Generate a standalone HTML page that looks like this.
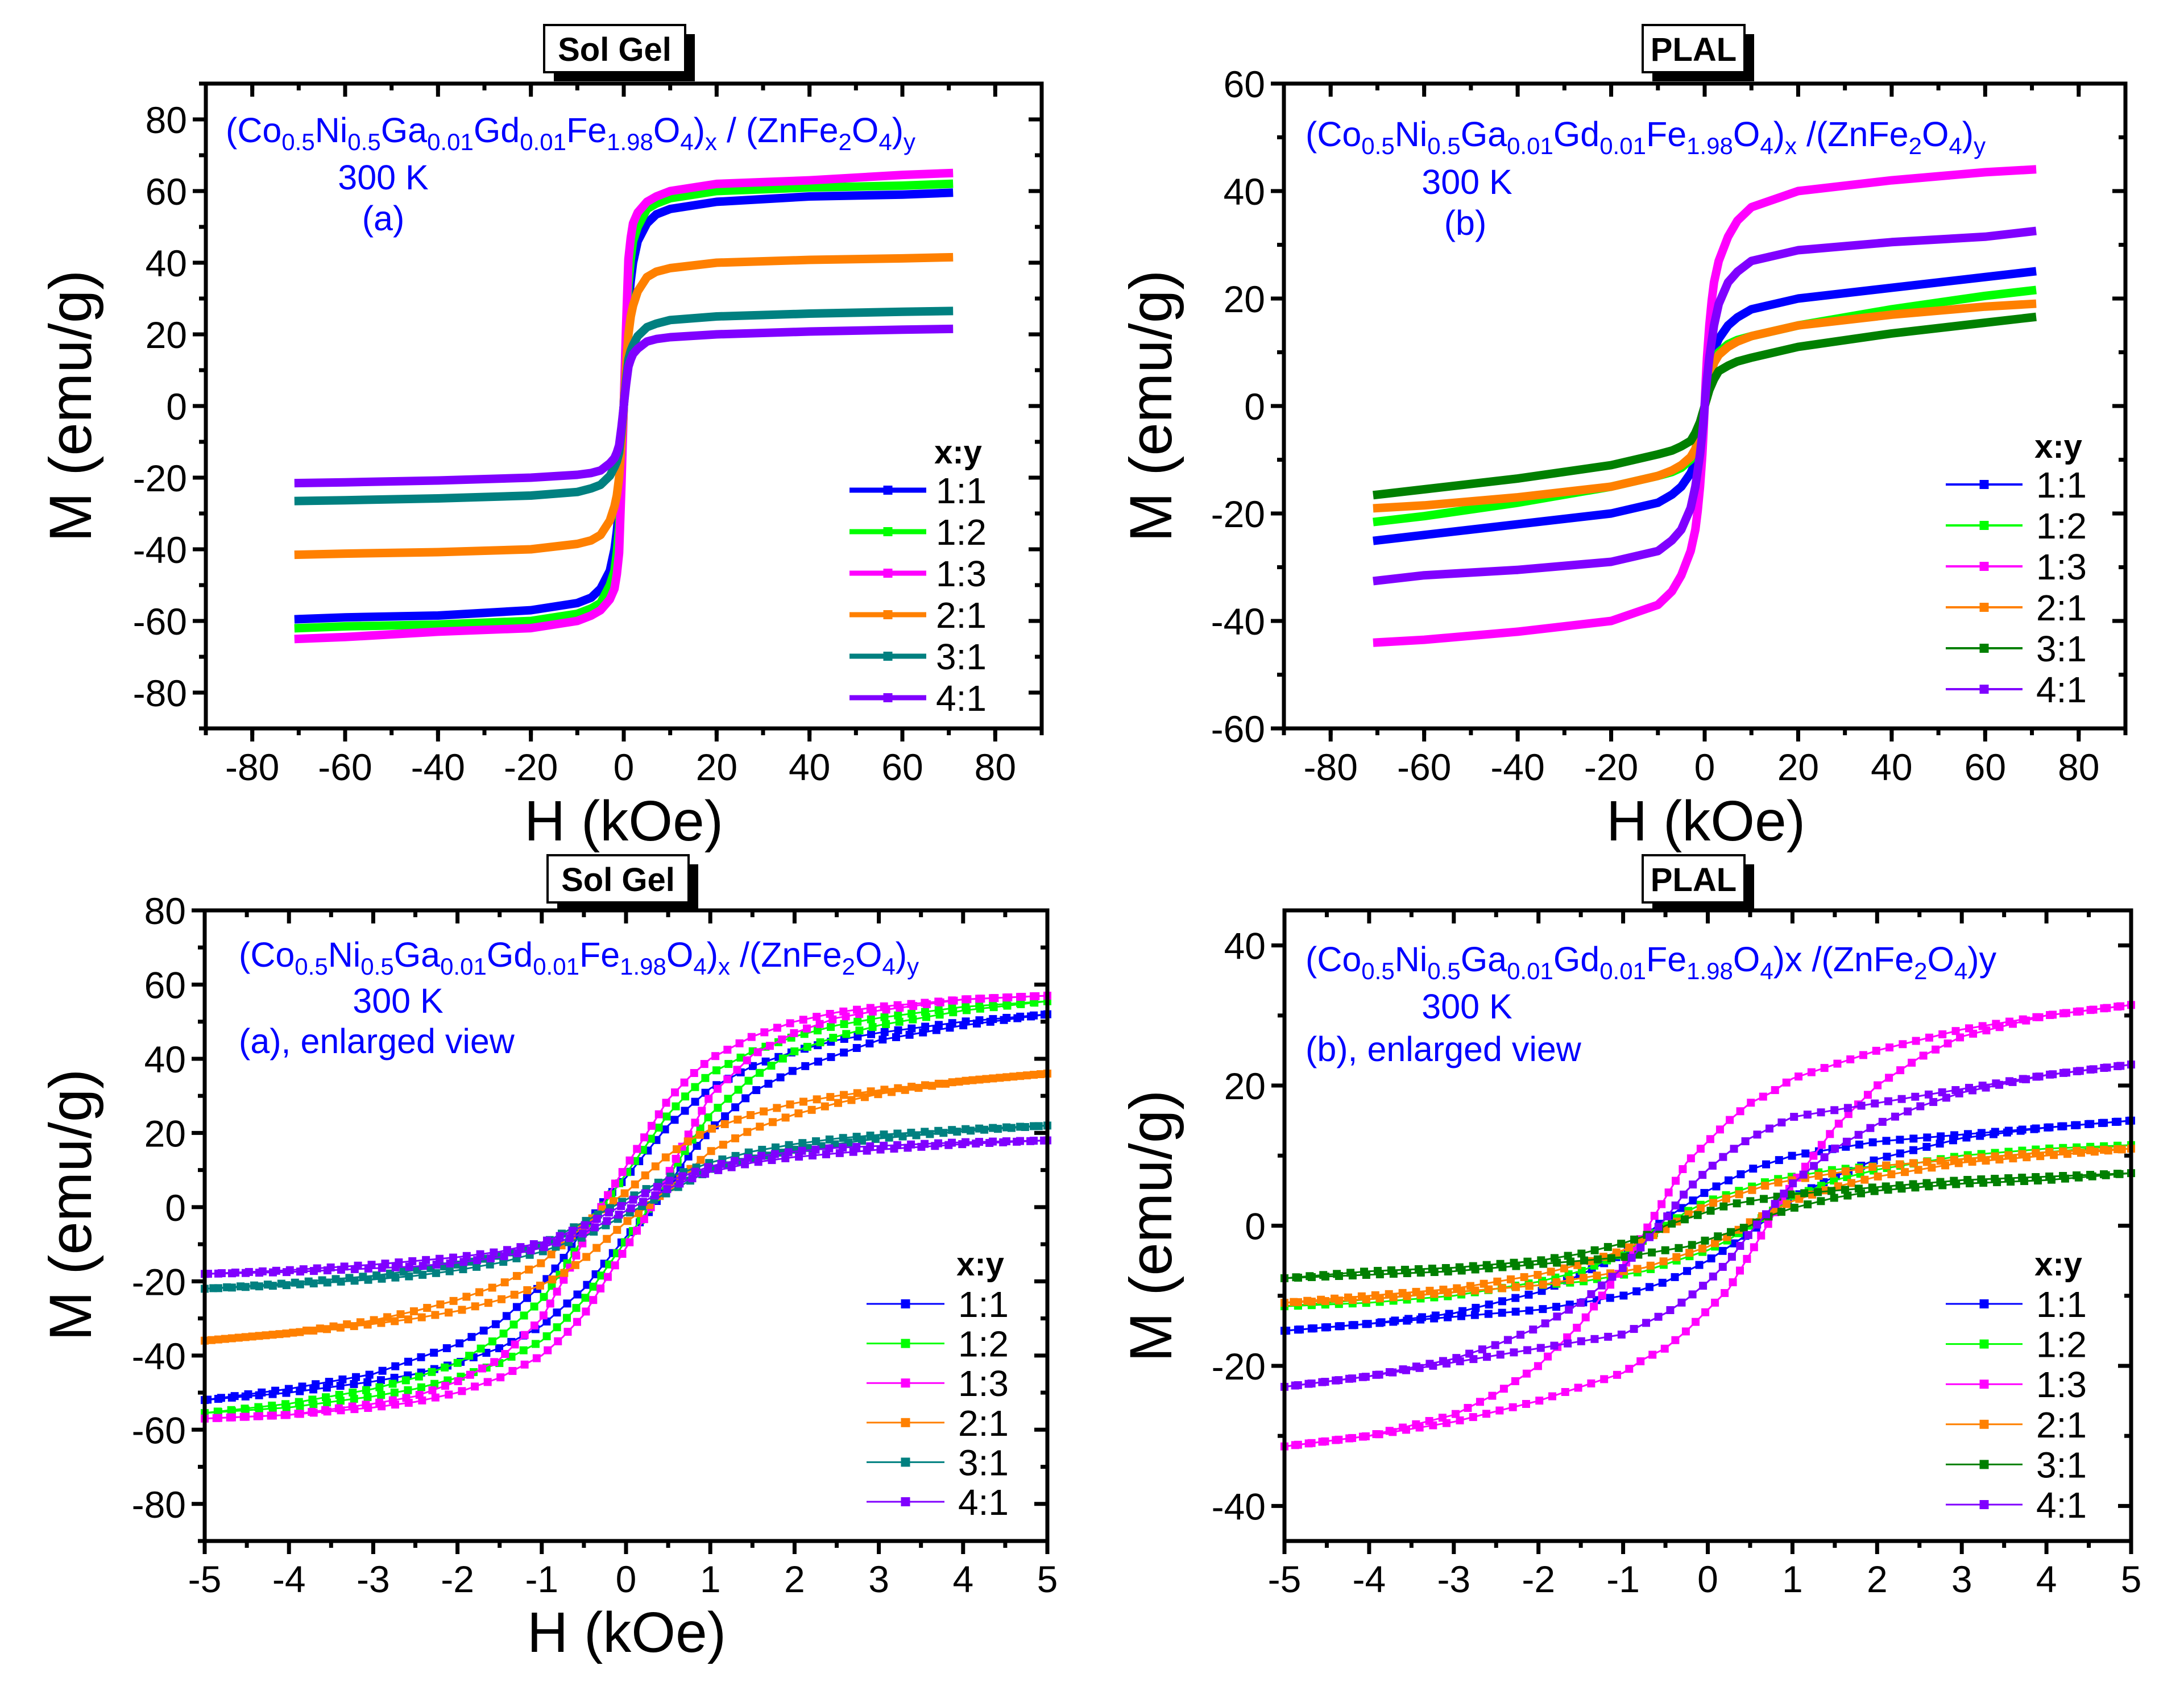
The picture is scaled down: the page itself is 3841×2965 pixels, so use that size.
<!DOCTYPE html>
<html><head><meta charset="utf-8">
<style>
html,body{margin:0;padding:0;background:#fff;}
svg{display:block;font-family:"Liberation Sans",Arial,sans-serif;}
</style></head>
<body>
<svg id="fig" width="3841" height="2965" viewBox="0 0 3841 2965" xmlns="http://www.w3.org/2000/svg"></svg>
<script>
// ---------- DATA ----------
const seriesLabels = ["1:1","1:2","1:3","2:1","3:1","4:1"];
// Panel (a) Sol Gel full loop
const hFullA = [-70,-60,-40,-20,-10,-7,-5,-3,-2,-1.5,-1,-0.5,-0.25,0,0.25,0.5,1,1.5,2,3,5,7,10,20,40,60,70];
const mA_11 = [-59.5,-59,-58.5,-57,-55,-53.5,-51,-46,-40,-35,-28,-15,-8,0,8,15,28,35,40,46,51,53.5,55,57,58.5,59,59.5];
const mA_12 = [-62,-61.5,-61,-60,-58,-56.5,-55,-50,-46,-41,-34,-18,-9,0,9,18,34,41,46,50,55,56.5,58,60,61,61.5,62];
const mA_13 = [-65,-64.5,-63,-62,-60,-58.5,-57,-54,-51,-47,-41,-22,-11,0,11,22,41,47,51,54,57,58.5,60,62,63,64.5,65];
const mA_21 = [-41.5,-41.2,-40.8,-40,-38.5,-37.5,-36,-32,-28,-25,-20,-11,-5.5,0,5.5,11,20,25,28,32,36,37.5,38.5,40,40.8,41.2,41.5];
const mA_31 = [-26.5,-26.3,-25.8,-25,-24,-23,-22,-19.5,-17,-15.5,-13,-7,-3.5,0,3.5,7,13,15.5,17,19.5,22,23,24,25,25.8,26.3,26.5];
const mA_41 = [-21.5,-21.3,-20.8,-20,-19.2,-18.7,-18,-16,-14.5,-13,-11,-6,-3,0,3,6,11,13,14.5,16,18,18.7,19.2,20,20.8,21.3,21.5];
// Panel (b) PLAL full loop
const hFullB = [-70,-60,-40,-20,-10,-7,-5,-3,-2,-1.5,-1,-0.5,-0.25,0,0.25,0.5,1,1.5,2,3,5,7,10,20,40,60,70];
const mB_11 = [-25,-24,-22,-20,-18,-16.5,-15,-12.5,-10.5,-9,-7,-4,-2,0,2,4,7,9,10.5,12.5,15,16.5,18,20,22,24,25];
const mB_12 = [-21.5,-20.5,-18,-15,-13,-12.3,-11.5,-10,-8.5,-7,-5.5,-3,-1.5,0,1.5,3,5.5,7,8.5,10,11.5,12.3,13,15,18,20.5,21.5];
const mB_13 = [-44,-43.5,-42,-40,-37,-34.5,-31.5,-27,-23,-19.5,-15,-9,-5,0,5,9,15,19.5,23,27,31.5,34.5,37,40,42,43.5,44];
const mB_21 = [-19,-18.5,-17,-15,-13,-12,-11,-9.5,-8,-6.5,-5,-3,-1.5,0,1.5,3,5,6.5,8,9.5,11,12,13,15,17,18.5,19];
const mB_31 = [-16.5,-15.5,-13.5,-11,-9,-8.3,-7.5,-6.5,-5,-4,-3,-1.5,-0.8,0,0.8,1.5,3,4,5,6.5,7.5,8.3,9,11,13.5,15.5,16.5];
const mB_41 = [-32.5,-31.5,-30.5,-29,-27,-25,-23,-19,-15,-12,-9,-5,-2.8,0,2.8,5,9,12,15,19,23,25,27,29,30.5,31.5,32.5];
// Panel (c) Sol Gel enlarged: ascending-field branch (descending branch is its inversion)
const hEnl = [-5,-4,-3,-2.5,-2,-1.5,-1,-0.75,-0.5,-0.25,0,0.25,0.5,0.75,1,1.5,2,2.5,3,4,5];
const mC_11 = [-52,-50,-47,-45,-42,-38,-32,-27,-22,-15,-8,-2,6,14,21,31,37,41,45,49,52];
const mC_12 = [-55.5,-54,-51,-49,-46,-42,-36,-31,-25,-17,-9,-1,8,17,25,35,42,46,49,53,55.5];
const mC_13 = [-57,-56,-54,-52.5,-50,-46,-40,-35,-29,-20,-11,-2,9,20,30,41,47,51,53,56,57];
const mC_21 = [-36,-34,-31.5,-30,-28,-25,-21,-18,-14,-9,-4,0,5,10,15,21,25,28,30.5,34,36];
const mC_31 = [-22,-21,-19.5,-18.5,-17,-15,-12,-10,-8,-5,-2,1,4,7,10,13,15.5,17,18.5,20.5,22];
const mC_41 = [-18,-17.5,-16.5,-16,-15,-13.5,-11,-9,-7,-4,-1,2,5,7.5,9.5,12,13.5,14.5,15.5,17,18];
// Panel (d) PLAL enlarged: ascending-field branch
const mD_11 = [-15,-14,-13,-12.5,-12,-11,-10,-9,-8,-6.5,-5,-3,-1,1.5,4,7,9.5,11,12.5,14,15];
const mD_12 = [-11.5,-10.5,-9.5,-9,-8.5,-8,-7,-6.5,-5.5,-4.5,-3.5,-2,0,2,4,6.5,8,9,10,11,11.5];
const mD_13 = [-31.5,-30,-28,-26.5,-25,-23,-21,-19,-17.5,-15,-12,-9,-4,1,6,14,20,24,27,30,31.5];
const mD_21 = [-11,-10.5,-9.5,-9,-8.5,-7.5,-6.5,-6,-5,-4,-3,-1.5,0.5,2,3.5,5.5,7,8,9,10,11];
const mD_31 = [-7.5,-7,-6.5,-6,-5.5,-5,-4.5,-4,-3.5,-3,-2,-1,0,1.5,2.5,4,5,5.5,6,6.5,7.5];
const mD_41 = [-23,-21.5,-19.5,-18.5,-17.5,-16.5,-15.5,-14,-12.5,-10.5,-8,-5,-1,2.5,6,11,14.5,17,19,21.5,23];
const ticksFullX = [-80,-60,-40,-20,0,20,40,60,80];
const ticksAY = [-80,-60,-40,-20,0,20,40,60,80];
const ticksBY = [-60,-40,-20,0,20,40,60];
const ticksEnlX = [-5,-4,-3,-2,-1,0,1,2,3,4,5];
const ticksCY = [-80,-60,-40,-20,0,20,40,60,80];
const ticksDY = [-40,-20,0,20,40];

const NS="http://www.w3.org/2000/svg";
const svg=document.getElementById('fig');
function mk(tag,attrs,parent){const e=document.createElementNS(NS,tag);for(const k in attrs)e.setAttribute(k,attrs[k]);(parent||svg).appendChild(e);return e;}
function lin(d0,d1,r0,r1){return v=>r0+(v-d0)*(r1-r0)/(d1-d0);}

const colSG=["#0000ff","#00ff00","#ff00ff","#ff8000","#008080","#8000ff"];
const colPL=["#0000ff","#00ff00","#ff00ff","#ff8000","#008000","#8000ff"];

function axes(g,p){
  const {x0,x1,y0,y1,sx,sy,xt,yt,xMinor,yMinor}=p;
  const fr=mk('rect',{x:x0,y:y0,width:x1-x0,height:y1-y0,fill:'none',stroke:'#000','stroke-width':7},g);
  
  
  const tg=mk('g',{stroke:'#000','stroke-width':7},g);
  
  
  xt.forEach(v=>{const x=sx(v);
    mk('line',{x1:x,x2:x,y1:y1,y2:y1+23},tg);mk('line',{x1:x,x2:x,y1:y0,y2:y0+23},tg);});
  xMinor.forEach(v=>{const x=sx(v);
    mk('line',{x1:x,x2:x,y1:y1,y2:y1+12},tg);mk('line',{x1:x,x2:x,y1:y0,y2:y0+12},tg);});
  yt.forEach(v=>{const y=sy(v);
    mk('line',{x1:x0-23,x2:x0,y1:y,y2:y},tg);mk('line',{x1:x1,x2:x1-23,y1:y,y2:y},tg);});
  yMinor.forEach(v=>{const y=sy(v);
    mk('line',{x1:x0-12,x2:x0,y1:y,y2:y},tg);mk('line',{x1:x1,x2:x1-12,y1:y,y2:y},tg);});
  xt.forEach(v=>{const t=mk('text',{x:sx(v),y:p.xLabY,'text-anchor':'middle','font-size':66},g);t.textContent=v;
    });
  yt.forEach(v=>{const t=mk('text',{x:x0-33,y:sy(v)+24,'text-anchor':'end','font-size':66},g);t.textContent=v;
    });
}
function range(a,b,s){const r=[];for(let v=a;v<=b+1e-9;v+=s)r.push(Math.round(v*100)/100);return r;}

function titleBox(g,x,y,w,label){
  const r1=mk('rect',{x:x+17,y:y+16,width:w,height:83,fill:'#000'},g);
  
  
  const r=mk('rect',{x:x,y:y,width:w,height:83,fill:'#fff',stroke:'#000','stroke-width':4},g);
  
  
  const t=mk('text',{x:x+w/2,y:y+63,'text-anchor':'middle','font-size':58,'font-weight':'bold'},g);
  t.textContent=label;
  
}
function formula(g,x,y,subXY){
  const t=mk('text',{x:x,y:y,'font-size':61,fill:'#0000ff'},g);
  
  let inSub=false;
  subXY.parts.forEach(([s,sub])=>{
    let dy=0;
    if(sub&&!inSub)dy=14;
    if(!sub&&inSub)dy=-14;
    inSub=!!sub;
    const ts=mk('tspan',{'font-size':sub?42:61,dy:dy},t);ts.textContent=s;
  });
  return t;
}
function fparts(sep,xySub){
  const p=[["(Co",0],["0.5",1],["Ni",0],["0.5",1],["Ga",0],["0.01",1],["Gd",0],["0.01",1],["Fe",0],["1.98",1],["O",0],["4",1],[")",0]];
  p.push(["x",xySub?1:0]);
  p.push([sep+"(ZnFe",0],["2",1],["O",0],["4",1],[")",0]);
  p.push(["y",xySub?1:0]);
  return {parts:p};
}
function txt(g,x,y,s,size,attrs,name){const t=mk('text',Object.assign({x:x,y:y,'font-size':size},attrs||{}),g);t.textContent=s;
  return t;}

function legend(g,p,cols,thick){
  txt(g,p.hx,p.hy,'x:y',58,{'font-weight':'bold','text-anchor':'middle'},'legend-title');
  seriesLabels.forEach((lab,i)=>{
    const y=p.y0+i*p.dy;
    const eg=mk('g',{},g);
    
    
    mk('line',{x1:p.lx0,x2:p.lx1,y1:y,y2:y,stroke:cols[i],'stroke-width':thick},eg);
    mk('rect',{x:(p.lx0+p.lx1)/2-8,y:y-8,width:16,height:16,fill:cols[i]},eg);
    txt(eg,p.tx,y+23,lab,64,{},'legend-label');
  });
}
function toPts(hs,ms,sx,sy){return hs.map((h,i)=>[sx(h),sy(ms[i])]);}
function pathD(pts){return pts.map((p,i)=>(i?'L':'M')+p[0].toFixed(1)+','+p[1].toFixed(1)).join('');}

function fullPanel(g,p,hs,data,cols){
  data.forEach((ms,i)=>{
    const pts=toPts(hs,ms,p.sx,p.sy);
    const path=mk('path',{d:pathD(pts),fill:'none',stroke:cols[i],'stroke-width':15,'stroke-linejoin':'round','stroke-linecap':'square'},g);
    
    
  });
}
function enlPanel(g,p,hs,data,cols){
  data.forEach((ms,i)=>{
    const up=toPts(hs,ms,p.sx,p.sy);
    const down=hs.map((h,j)=>[p.sx(-h),p.sy(-ms[j])]);
    const sg=mk('g',{},g);
    
    
    [up,down].forEach(pts=>{
      const path=mk('path',{d:pathD(pts),fill:'none',stroke:cols[i],'stroke-width':3},sg);
      const L=path.getTotalLength();
      for(let s=0;s<=L;s+=24){const q=path.getPointAtLength(s);
        mk('rect',{x:q.x-7,y:q.y-7,width:14,height:14,fill:cols[i]},sg);}
    });
  });
}

// ---------- Panel A ----------
(function(){
  const g=mk('g',{});
  const p={x0:362,x1:1832,y0:147,y1:1281,sx:lin(-90,90,362,1832),sy:lin(-90,90,1281,147),
    xt:ticksFullX,yt:ticksAY,xMinor:range(-90,90,10),yMinor:range(-90,90,10),xLabY:1372};
  fullPanel(g,p,hFullA,[mA_11,mA_12,mA_13,mA_21,mA_31,mA_41],colSG);
  axes(g,p);
  titleBox(g,957,44,248,'Sol Gel');
  formula(g,397,250,fparts(' / ',true));
  txt(g,674,333,'300 K',61,{fill:'#0000ff','text-anchor':'middle'},'temperature-label');
  txt(g,674,405,'(a)',61,{fill:'#0000ff','text-anchor':'middle'},'panel-label');
  legend(g,{hx:1685,hy:815,y0:862,dy:73,lx0:1494,lx1:1629,tx:1646},colSG,9);
  txt(g,1097,1478,'H (kOe)',100,{'text-anchor':'middle'},'x-axis-title');
  txt(g,0,0,'M (emu/g)',105,{'text-anchor':'middle',transform:'translate(160,714) rotate(-90)'},'y-axis-title');
})();
// ---------- Panel B ----------
(function(){
  const g=mk('g',{});
  const p={x0:2258,x1:3738,y0:147,y1:1281,sx:lin(-90,90,2258,3738),sy:lin(-60,60,1281,147),
    xt:ticksFullX,yt:ticksBY,xMinor:range(-90,90,10),yMinor:range(-60,60,10),xLabY:1372};
  fullPanel(g,p,hFullB,[mB_11,mB_12,mB_13,mB_21,mB_31,mB_41],colPL);
  axes(g,p);
  titleBox(g,2889,44,179,'PLAL');
  formula(g,2296,257,fparts(' /',true));
  txt(g,2580,341,'300 K',61,{fill:'#0000ff','text-anchor':'middle'},'temperature-label');
  txt(g,2577,413,'(b)',61,{fill:'#0000ff','text-anchor':'middle'},'panel-label');
  legend(g,{hx:3620,hy:805,y0:852,dy:72,lx0:3422,lx1:3557,tx:3581},colPL,4);
  txt(g,3000,1478,'H (kOe)',100,{'text-anchor':'middle'},'x-axis-title');
  txt(g,0,0,'M (emu/g)',105,{'text-anchor':'middle',transform:'translate(2060,714) rotate(-90)'},'y-axis-title');
})();
// ---------- Panel C ----------
(function(){
  const g=mk('g',{});
  const p={x0:360,x1:1842,y0:1601,y1:2710,sx:lin(-5,5,360,1842),sy:lin(-90,80,2710,1601),
    xt:ticksEnlX,yt:ticksCY,xMinor:range(-4.5,4.5,1),yMinor:range(-90,70,20),xLabY:2800};
  enlPanel(g,p,hEnl,[mC_11,mC_12,mC_13,mC_21,mC_31,mC_41],colSG);
  axes(g,p);
  titleBox(g,963,1504,248,'Sol Gel');
  formula(g,420,1700,fparts(' /',true));
  txt(g,700,1781,'300 K',61,{fill:'#0000ff','text-anchor':'middle'},'temperature-label');
  txt(g,420,1852,'(a), enlarged view',61,{fill:'#0000ff'},'panel-label');
  legend(g,{hx:1724,hy:2243,y0:2293,dy:69.6,lx0:1524,lx1:1661,tx:1685},colSG,3);
  txt(g,1102,2905,'H (kOe)',100,{'text-anchor':'middle'},'x-axis-title');
  txt(g,0,0,'M (emu/g)',105,{'text-anchor':'middle',transform:'translate(160,2119) rotate(-90)'},'y-axis-title');
})();
// ---------- Panel D ----------
(function(){
  const g=mk('g',{});
  const p={x0:2259,x1:3748,y0:1601,y1:2710,sx:lin(-5,5,2259,3748),sy:lin(-45,45,2710,1601),
    xt:ticksEnlX,yt:ticksDY,xMinor:range(-4.5,4.5,1),yMinor:range(-30,30,20),xLabY:2800};
  enlPanel(g,p,hEnl,[mD_11,mD_12,mD_13,mD_21,mD_31,mD_41],colPL);
  axes(g,p);
  titleBox(g,2889,1504,179,'PLAL');
  formula(g,2296,1708,fparts(' /',false));
  txt(g,2580,1791,'300 K',61,{fill:'#0000ff','text-anchor':'middle'},'temperature-label');
  txt(g,2296,1866,'(b), enlarged view',61,{fill:'#0000ff'},'panel-label');
  legend(g,{hx:3620,hy:2243,y0:2293,dy:70.6,lx0:3422,lx1:3557,tx:3581},colPL,3);
  txt(g,0,0,'M (emu/g)',105,{'text-anchor':'middle',transform:'translate(2060,2156) rotate(-90)'},'y-axis-title');
})();
</script>
</body></html>
